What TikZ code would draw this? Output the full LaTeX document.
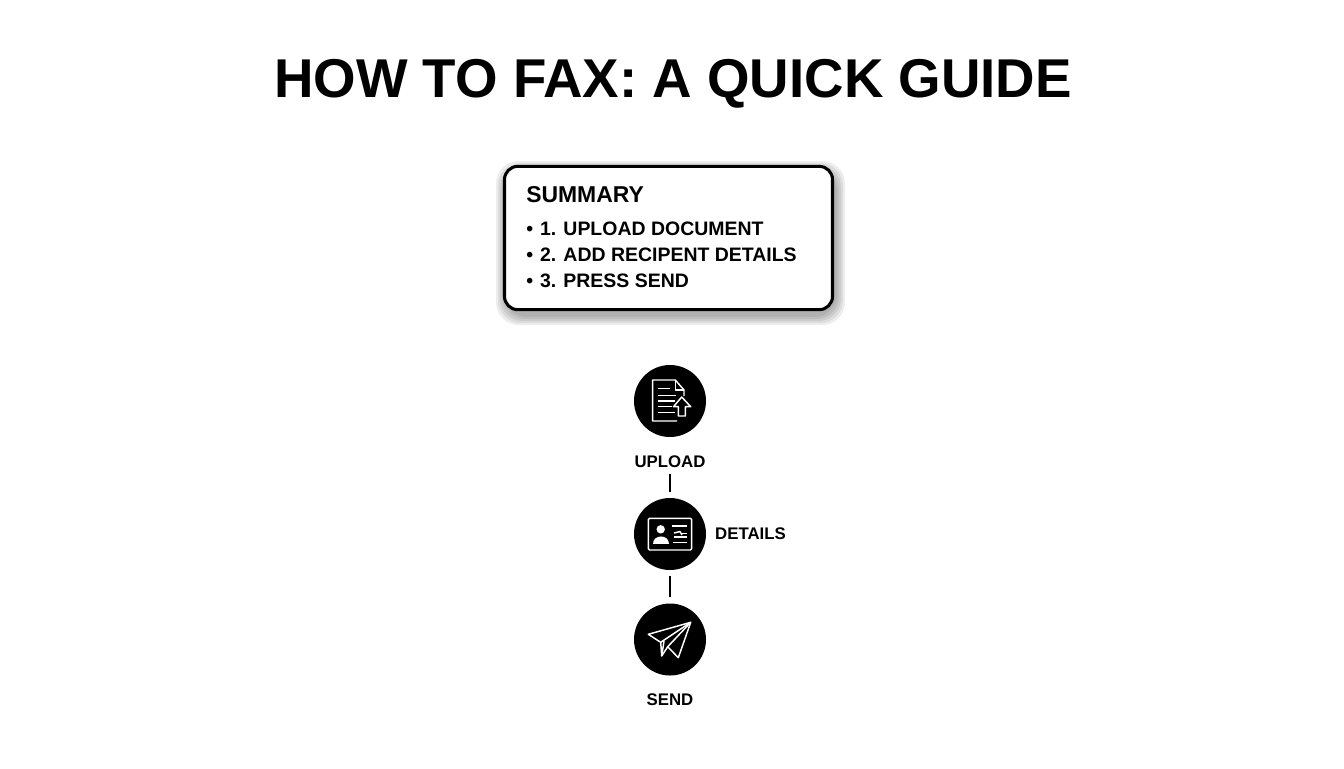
\documentclass[tikz,border=0pt]{standalone}
\usepackage{fontspec}
\setmainfont{Liberation Sans}
\usetikzlibrary{positioning}

\tikzset{
  stepcircle/.style={shape=circle,fill=black,minimum size=54pt,inner sep=0pt},
  steplabel/.style={font=\fontsize{12.6}{14}\selectfont\bfseries,inner sep=0pt},
  summaryline/.style={anchor=west,inner sep=0pt,font=\fontsize{14.6}{17}\selectfont\bfseries},
  iconline/.style={draw=white,line width=1.1pt,line join=round},
  stepline/.style={draw=black,line width=2.2pt}
}

\begin{document}
\begin{tikzpicture}
[x=0.75pt,y=-0.75pt]
\useasboundingbox (0,0) rectangle (1344,768);

\node[font=\fontsize{41}{48}\selectfont\bfseries,inner sep=0pt] (title) at (673,84) {HOW TO FAX: A QUICK GUIDE};

% soft shadow, then the box
\foreach \grow in {9,7,5,3,1}
  \fill[black,opacity=0.07,rounded corners=17pt]
    (503-\grow+2,165-\grow+5) rectangle (834+\grow+2,311+\grow+5);
\node[draw=black,fill=white,line width=2.3pt,rounded corners=10pt,minimum width=246pt,minimum height=107.5pt,inner sep=0pt] (summary) at (668.5,238) {};

\node[summaryline,font=\fontsize{17.2}{20}\selectfont\bfseries] (summarytitle) at (526,195) {SUMMARY};
\node[summaryline] (item1) at (526,229) {•\hspace{5.2pt}1. UPLOAD DOCUMENT};
\node[summaryline] (item2) at (526,255) {•\hspace{5.2pt}2. ADD RECIPENT DETAILS};
\node[summaryline] (item3) at (526,281) {•\hspace{5.2pt}3. PRESS SEND};

\node[stepcircle] (upload) at (670,401) {};
\node[stepcircle] (details) at (670,534) {};
\node[stepcircle] (send) at (670,639.5) {};

\node[steplabel,below=14pt of upload] (uploadlabel) {UPLOAD};
\node[steplabel,right=6.5pt of details] (detailslabel) {DETAILS};
\node[steplabel,below=13pt of send] (sendlabel) {SEND};

\draw[stepline,shorten <=4pt,shorten >=4.5pt] (uploadlabel) -- (details);
\draw[stepline,shorten <=4pt,shorten >=4.5pt] (details) -- (send);

% upload icon
\draw[iconline] (684,396) -- (684,390) -- (675.3,380) -- (652.7,380) -- (652.7,421) -- (677,421);
\draw[iconline] (675.3,380) -- (675.3,390) -- (684,390);
\foreach \ya/\xb in {388.3/670,395.7/676,401/675,406.7/672,412.3/675}
  \draw[iconline] (658.3,\ya) -- (\xb,\ya);
\draw[iconline] (678.3,416) -- (678.3,406.7) -- (673.5,406.7) -- (681.7,397) -- (690.7,406.7) -- (685.3,406.7) -- (685.3,416) -- cycle;

% id card icon
\draw[iconline,rounded corners=1pt] (648.3,518.3) rectangle (691.7,550);
\fill[white] (660.7,529.3) circle (4.2);
\fill[white] (652.7,543.5) .. controls (652.7,533.5) and (669.3,533.5) .. (669.3,543.5) -- cycle;
\draw[iconline] (671.7,526) -- (686.7,526);
\draw[iconline] (674,533) -- (680,531.5) -- (682,535);
\draw[iconline] (681,533.5) -- (686.7,533.5);
\draw[iconline] (674,537) -- (686.7,537);
\draw[iconline] (673,542.3) -- (686.7,542.3);

% paper plane icon
\draw[iconline] (690.7,622.3) -- (648.3,634.3) -- (660.7,642.3) -- (661.7,656) -- (667.7,646.7) -- (678.3,657.7) -- cycle;
\draw[iconline] (660.7,642.3) -- (690.7,622.3);
\draw[iconline] (667.7,646.7) -- (690.7,622.3);
\draw[iconline] (661.7,656) -- (664,641);
\end{tikzpicture}
\end{document}
